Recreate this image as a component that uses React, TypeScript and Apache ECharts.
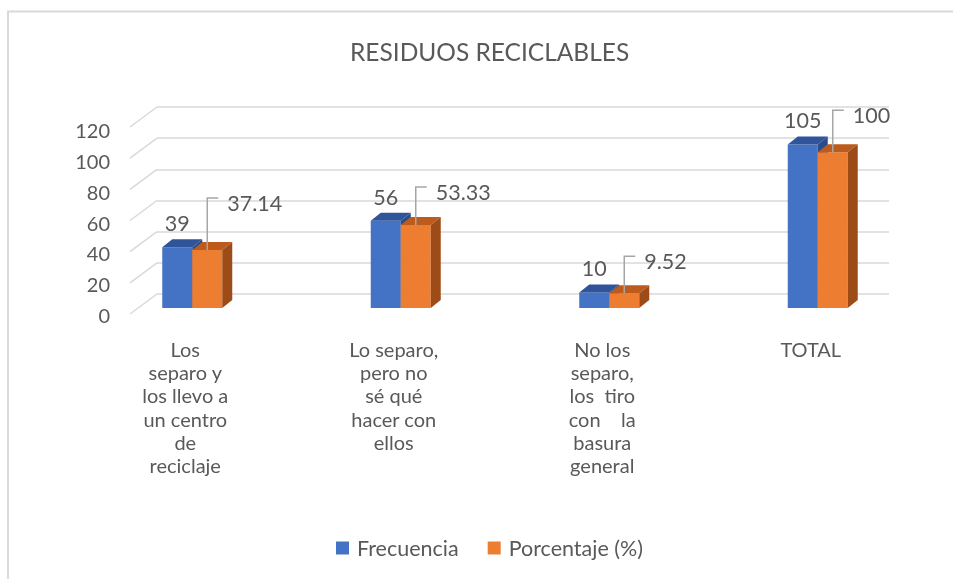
import React, { useEffect, useRef } from 'react';
import * as echarts from 'echarts';

const title = 'RESIDUOS RECICLABLES';
const categories = [
  'Los\nseparo y\nlos llevo a\nun centro\nde\nreciclaje',
  'Lo separo,\npero no\nsé qué\nhacer con\nellos',
  'No los\nseparo,\nlos  tiro\ncon    la\nbasura\ngeneral',
  'TOTAL',
];
const seriesNames = ['Frecuencia', 'Porcentaje (%)'];
const frecuencia = [39, 56, 10, 105];
const porcentaje = [37.14, 53.33, 9.52, 100];
const yTicks = [0, 20, 40, 60, 80, 100, 120];

// style / layout constants
const labelLift = [52, 38, 37, 42];
const FONT = 'Lato, "Open Sans", sans-serif';
const TXT = '#595959';
const GRIDC = '#d9d9d9';
const BAR_W = 30;
const SHIFT = 7;
const DX = 10;
const DY = 8;
const PERSP_X = 27;
const PERSP_Y = 20;

const palettes = [
  { front: '#4472C4', top: '#30549A', side: '#2B4C8C' },
  { front: '#ED7D31', top: '#BD5B1D', side: '#9E4C17' },
];

function box(x0: number, yTop: number, yBase: number, p: { front: string; top: string; side: string }) {
  const w = BAR_W;
  return [
    { type: 'rect', shape: { x: x0, y: yTop, width: w, height: yBase - yTop }, style: { fill: p.front } },
    {
      type: 'polygon',
      shape: { points: [[x0, yTop], [x0 + DX, yTop - DY], [x0 + w + DX, yTop - DY], [x0 + w, yTop]] },
      style: { fill: p.top },
    },
    {
      type: 'polygon',
      shape: { points: [[x0 + w, yTop], [x0 + w + DX, yTop - DY], [x0 + w + DX, yBase - DY], [x0 + w, yBase]] },
      style: { fill: p.side },
    },
  ];
}

export default function App() {
  const ref = useRef<HTMLDivElement>(null);
  useEffect(() => {
    if (!ref.current) return;
    const chart = echarts.init(ref.current, undefined, { renderer: 'svg' });

    const barRender = (si: number) => (params: any, api: any) => {
      const cat = api.value(0);
      const v = api.value(1);
      const base = api.coord([cat, 0]);
      const top = api.coord([cat, v]);
      const cx = base[0] + SHIFT;
      const x0 = si === 0 ? cx - BAR_W : cx;
      const children: any[] = box(x0, top[1], base[1], palettes[si]);
      const txt = String(v);
      if (si === 0) {
        children.push({
          type: 'text',
          style: {
            text: txt,
            x: x0 + BAR_W / 2,
            y: top[1] - 24,
            align: 'center',
            verticalAlign: 'middle',
            fill: TXT,
            fontSize: 21.5,
            fontFamily: FONT,
          },
        });
      } else {
        const lx = x0 + BAR_W / 2;
        const ly = top[1] - labelLift[params.dataIndex];
        children.push({
          type: 'polyline',
          shape: { points: [[lx, top[1]], [lx, ly], [lx + 11, ly]] },
          style: { stroke: '#a6a6a6', lineWidth: 1.5, fill: 'none' },
        });
        children.push({
          type: 'text',
          style: {
            text: txt,
            x: lx + 20,
            y: ly + 5,
            align: 'left',
            verticalAlign: 'middle',
            fill: TXT,
            fontSize: 21.5,
            fontFamily: FONT,
          },
        });
      }
      return { type: 'group', children };
    };

    chart.setOption({
      animation: false,
      color: [palettes[0].front, palettes[1].front],
      title: {
        text: title,
        left: 345,
        top: 34,
        textStyle: { color: TXT, fontSize: 24.5, fontWeight: 'normal', fontFamily: FONT },
      },
      legend: {
        left: 336,
        top: 537,
        padding: 0,
        itemWidth: 13,
        itemHeight: 13,
        itemGap: 29,
        icon: 'rect',
        textStyle: { color: TXT, fontSize: 21.5, fontFamily: FONT, padding: [0, 0, 0, 3] },
        data: seriesNames,
      },
      graphic: [
        {
          type: 'rect',
          shape: { x: 8, y: 11.5, width: 1200, height: 1200 },
          style: { fill: 'none', stroke: GRIDC, lineWidth: 2 },
          silent: true,
          z: -10,
        },
      ],
      grid: [
        { left: 157, width: 732, top: 107, height: 187 },
        { left: 81, right: 38, top: 121, bottom: 271 },
        { left: 130, width: 10, top: 130, bottom: 264 },
      ],
      xAxis: [
        { type: 'category', gridIndex: 0, data: categories, show: false },
        {
          type: 'category',
          gridIndex: 1,
          data: categories,
          axisLine: { show: false },
          axisTick: { show: false },
          axisLabel: {
            interval: 0,
            margin: 29,
            color: TXT,
            fontSize: 20,
            lineHeight: 23.3,
            fontFamily: FONT,
            align: 'center',
          },
        },
        { type: 'category', gridIndex: 2, data: ['a'], show: false },
      ],
      yAxis: [
        {
          type: 'value',
          gridIndex: 0,
          min: 0,
          max: 120,
          interval: 20,
          axisLabel: { show: false },
          axisLine: { show: false },
          axisTick: { show: false },
          splitLine: { show: true, lineStyle: { color: GRIDC, width: 1.5 } },
        },
        { type: 'value', gridIndex: 1, min: 0, max: 120, interval: 20, show: false },
        {
          type: 'value',
          gridIndex: 2,
          min: 0,
          max: 120,
          interval: 20,
          axisLabel: { color: TXT, fontSize: 20, fontFamily: FONT, margin: 20 },
          axisLine: { show: false },
          axisTick: { show: false },
          splitLine: { show: false },
        },
      ],
      series: [
        {
          type: 'custom',
          name: 'perspective',
          xAxisIndex: 0,
          yAxisIndex: 0,
          silent: true,
          data: yTicks.map((t) => [0, t]),
          renderItem: (params: any, api: any) => {
            const p = api.coord([0, api.value(1)]);
            const x = params.coordSys.x;
            return {
              type: 'line',
              shape: { x1: x, y1: p[1], x2: x - PERSP_X, y2: p[1] + PERSP_Y },
              style: { stroke: GRIDC, lineWidth: 1.5 },
            };
          },
        },
        {
          type: 'custom',
          name: seriesNames[0],
          xAxisIndex: 1,
          yAxisIndex: 1,
          itemStyle: { color: palettes[0].front },
          data: frecuencia.map((v, i) => [i, v]),
          renderItem: barRender(0),
        },
        {
          type: 'custom',
          name: seriesNames[1],
          xAxisIndex: 1,
          yAxisIndex: 1,
          itemStyle: { color: palettes[1].front },
          data: porcentaje.map((v, i) => [i, v]),
          renderItem: barRender(1),
        },
      ],
    });
    return () => chart.dispose();
  }, []);
  return <div ref={ref} style={{ position: 'fixed', left: 0, top: 0, width: 953, height: 579 }} />;
}
